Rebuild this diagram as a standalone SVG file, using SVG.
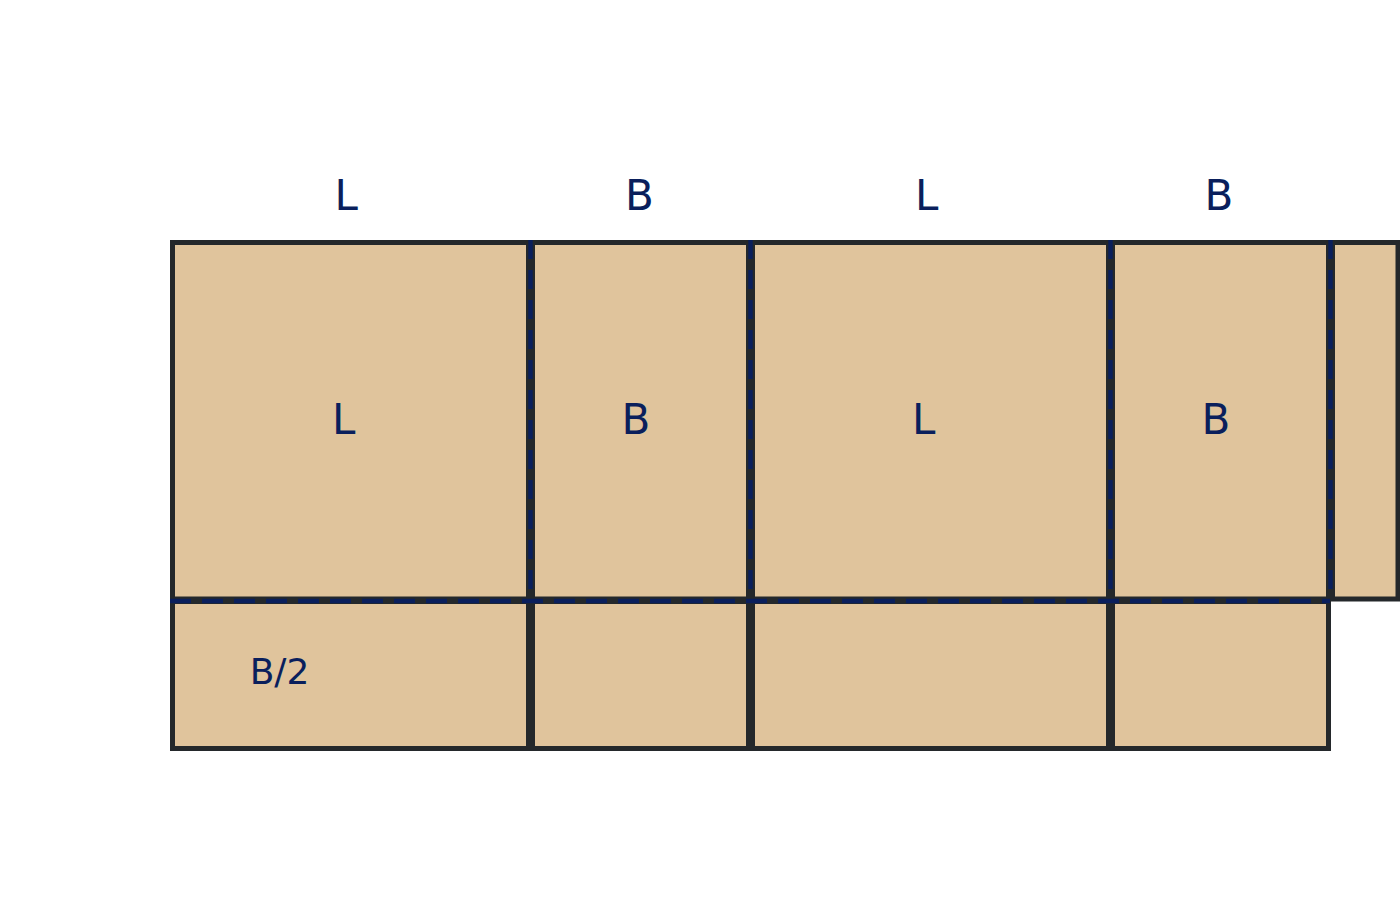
<svg xmlns="http://www.w3.org/2000/svg" width="1400" height="900" viewBox="0 0 1400 900">
<style>
.p{fill:#E0C49C;stroke:#24282B;stroke-width:5}
.f{stroke:#0A1F5C;stroke-width:4.4;fill:none}
.v{stroke-dasharray:19 11}
.h{stroke-dasharray:21 11}
.t{font-family:"DejaVu Sans",sans-serif;fill:#0A1F5C;text-anchor:middle}
.b{font-size:42px}
.s{font-size:36px}
</style>
<rect width="1400" height="900" fill="#FFFFFF"/>
<g id="panel-top-1"><rect class="p" x="172.5" y="242.5" width="356" height="356.5"/><text class="t b" x="343.6" y="433.5">L</text></g>
<g id="panel-top-2"><rect class="p" x="532.5" y="242.5" width="216" height="356.5"/><text class="t b" x="636" y="433.5">B</text></g>
<g id="panel-top-3"><rect class="p" x="752.5" y="242.5" width="356" height="356.5"/><text class="t b" x="923.6" y="433.5">L</text></g>
<g id="panel-top-4"><rect class="p" x="1112.5" y="242.5" width="216" height="356.5"/><text class="t b" x="1216" y="433.5">B</text></g>
<g id="panel-top-5"><rect class="p" x="1332.5" y="242.5" width="65.5" height="356.5"/></g>
<g id="panel-bot-1"><rect class="p" x="172.5" y="601.5" width="356" height="147"/><text class="t s" x="279.5" y="684">B/2</text></g>
<g id="panel-bot-2"><rect class="p" x="532.5" y="601.5" width="216" height="147"/></g>
<g id="panel-bot-3"><rect class="p" x="752.5" y="601.5" width="356" height="147"/></g>
<g id="panel-bot-4"><rect class="p" x="1112.5" y="601.5" width="216" height="147"/></g>
<g id="folds">
<line class="f v" x1="530.5" y1="240" x2="530.5" y2="599"/>
<line class="f v" x1="750.5" y1="240" x2="750.5" y2="599"/>
<line class="f v" x1="1110.5" y1="240" x2="1110.5" y2="599"/>
<line class="f v" x1="1330.5" y1="240" x2="1330.5" y2="599"/>
<line class="f h" x1="170" y1="601" x2="1330" y2="601"/>
</g>
<g id="labels">
<text class="t b" x="346.3" y="209.5">L</text>
<text class="t b" x="639.3" y="209.5">B</text>
<text class="t b" x="926.6" y="209.5">L</text>
<text class="t b" x="1219" y="209.5">B</text>
</g>
</svg>
